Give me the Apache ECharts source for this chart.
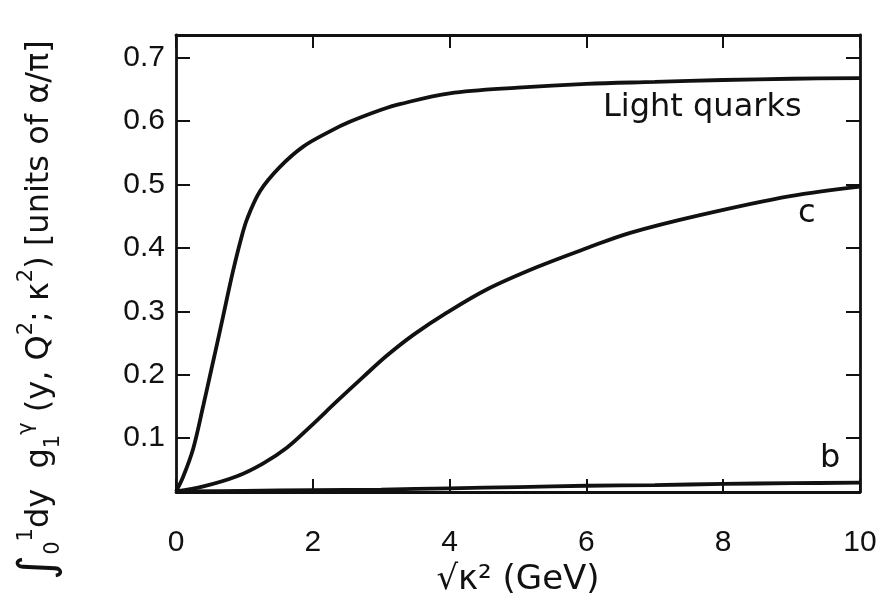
<!DOCTYPE html>
<html>
<head>
<meta charset="utf-8">
<script src="https://cdn.jsdelivr.net/npm/echarts@6/dist/echarts.min.js"></script>
<style>
  html, body { margin: 0; padding: 0; background: #fff; }
  #chart { width: 886px; height: 602px; }
</style>
</head>
<body>
<div id="chart"></div>
<script>
// values
const xLight = [0, 0.1, 0.25, 0.4, 0.52, 0.64, 0.74, 0.83, 0.94, 1.04, 1.23, 1.52, 1.86, 2.25, 2.54, 3.0, 3.27, 4.0, 5.0, 6.0, 7.0, 8.0, 9.0, 10.0]
const yLight = [0.016, 0.038, 0.083, 0.152, 0.210, 0.268, 0.318, 0.362, 0.410, 0.446, 0.490, 0.528, 0.560, 0.584, 0.599, 0.618, 0.627, 0.644, 0.653, 0.659, 0.662, 0.665, 0.667, 0.668]

const xCharm = [0, 0.4, 0.89, 1.27, 1.62, 1.96, 2.35, 2.73, 3.08, 3.47, 3.96, 4.55, 5.28, 6.01, 6.64, 7.66, 8.98, 10]
const yCharm = [0.016, 0.024, 0.040, 0.060, 0.085, 0.118, 0.158, 0.196, 0.230, 0.263, 0.298, 0.335, 0.370, 0.400, 0.424, 0.452, 0.482, 0.497]

const xBottom = [0, 1, 2, 3, 4, 5, 6, 7, 8, 9, 10]
const yBottom = [0.016, 0.017, 0.018, 0.019, 0.021, 0.023, 0.025, 0.026, 0.028, 0.029, 0.030]

const yTicks = [0.1, 0.2, 0.3, 0.4, 0.5, 0.6, 0.7]
const xName = '√κ² (GeV)'

const pairs = (xs, ys) => xs.map((x, i) => [x, ys[i]])

const ink = '#111'
const font = "'Liberation Sans', Arial, sans-serif"
const wide = "'DejaVu Sans', sans-serif"

const chart = echarts.init(document.getElementById('chart'))

const lineSeries = (name, xs, ys) => ({
  name: name,
  type: 'line',
  data: pairs(xs, ys),
  showSymbol: false,
  smooth: 0.35,
  lineStyle: { color: ink, width: 3.8 },
  xAxisIndex: 0,
  yAxisIndex: 0
})

const xBase = {
  type: 'value', min: 0, max: 10, interval: 2,
  splitLine: { show: false },
  axisLine: { show: true, onZero: false, lineStyle: { color: ink, width: 2.8 } },
  axisTick: { show: true, inside: true, length: 13, lineStyle: { color: ink, width: 2 } }
}
const yBase = {
  type: 'value', min: 0.015, max: 0.736,
  splitLine: { show: false },
  axisLine: { show: true, onZero: false, lineStyle: { color: ink, width: 2.8 } },
  axisTick: { show: true, inside: true, length: 14, customValues: yTicks, lineStyle: { color: ink, width: 2 } }
}

chart.setOption({
  animation: false,
  backgroundColor: '#fff',
  grid: { left: 176, right: 26, top: 35, bottom: 109 },
  xAxis: [
    Object.assign({}, xBase, {
      position: 'bottom',
      name: xName, nameLocation: 'middle', nameGap: 68,
      nameTextStyle: { color: ink, fontSize: 34, fontFamily: wide },
      axisLabel: { color: ink, fontSize: 30, fontFamily: font, margin: 36 }
    }),
    Object.assign({}, xBase, { position: 'top', axisLabel: { show: false } })
  ],
  yAxis: [
    Object.assign({}, yBase, {
      position: 'left',
      axisLabel: {
        color: ink, fontSize: 30, fontFamily: font, margin: 11,
        customValues: yTicks,
        formatter: v => v.toFixed(1)
      }
    }),
    Object.assign({}, yBase, { position: 'right', axisLabel: { show: false } })
  ],
  graphic: [
    {
      type: 'text', x: 40, y: 310, rotation: Math.PI / 2,
      style: {
        text: '{int|∫}{lo|0}{hi|1}dy  g{lo|1}{hi|γ} (y, Q{hi|2}; κ{hi|2}) [units of α/π]',
        fontSize: 32, fontFamily: wide, fill: ink,
        align: 'center', verticalAlign: 'middle',
        rich: {
          int: { fontSize: 48, fontFamily: wide, fill: ink, lineHeight: 48 },
          hi: { fontSize: 21, fontFamily: wide, fill: ink, verticalAlign: 'top', lineHeight: 48 },
          lo: { fontSize: 21, fontFamily: wide, fill: ink, verticalAlign: 'bottom', lineHeight: 42 }
        }
      }
    },
    {
      type: 'text', x: 603, y: 108,
      style: { text: 'Light quarks', fontSize: 32, fontFamily: wide, fill: ink, verticalAlign: 'middle' }
    },
    {
      type: 'text', x: 798, y: 214,
      style: { text: 'c', fontSize: 32, fontFamily: wide, fill: ink, verticalAlign: 'middle' }
    },
    {
      type: 'text', x: 820, y: 459,
      style: { text: 'b', fontSize: 32, fontFamily: wide, fill: ink, verticalAlign: 'middle' }
    }
  ],
  series: [
    lineSeries('Light quarks', xLight, yLight),
    lineSeries('c', xCharm, yCharm),
    lineSeries('b', xBottom, yBottom)
  ]
})
</script>
</body>
</html>
